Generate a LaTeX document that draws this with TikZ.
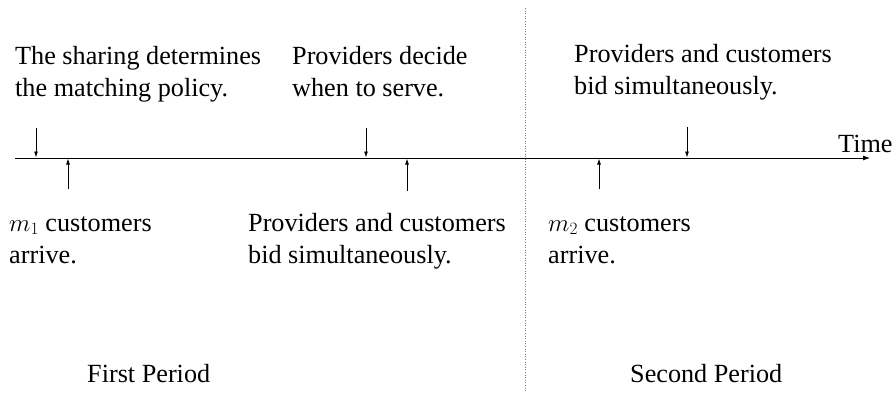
\documentclass[tikz,border=0pt]{standalone}
\usepackage{fontspec}
\setmainfont{Liberation Serif}
\usetikzlibrary{arrows.meta}
\begin{document}
\begin{tikzpicture}[x=1pt,y=-1pt,
  lbl/.style={font={\fontsize{26.2}{32}\selectfont}, inner sep=0pt, anchor=base west, align=left},
  tick/.style={line width=0.8pt, -{Latex[length=6pt,width=4pt]}},
  axis/.style={line width=0.9pt, -{Latex[length=7pt,width=5pt]}}]
\useasboundingbox (0,0) rectangle (893,392);
% timeline
\coordinate (t0) at (15,158);
\coordinate (t1) at (870,158);
\draw[axis] (t0) -- (t1);
\node[lbl] (time) at (838,152) {Time};
% period separator
\coordinate (s0) at (525,8);
\coordinate (s1) at (525,392);
\draw[dotted, line width=0.6pt, gray] (s0) -- (s1);
% top labels (anchor = baseline of last line)
\node[lbl] (a) at (15,96) {The sharing determines\\the matching policy.};
\node[lbl] (b) at (292,96) {Providers decide\\when to serve.};
\node[lbl] (c) at (574,94) {Providers and customers\\bid simultaneously.};
% bottom labels
\node[lbl] (d) at (9,263) {$m_1$ customers\\arrive.};
\node[lbl] (e) at (248,263) {Providers and customers\\bid simultaneously.};
\node[lbl] (f) at (548,263) {$m_2$ customers\\arrive.};
\node[lbl] (p1) at (87,382) {First Period};
\node[lbl] (p2) at (630,382) {Second Period};
% down arrows
\coordinate (d1a) at (36,128); \coordinate (d1b) at (36,157.5);
\coordinate (d2a) at (366,128); \coordinate (d2b) at (366,157.5);
\coordinate (d3a) at (687,127); \coordinate (d3b) at (687,157.5);
\draw[tick] (d1a) -- (d1b);
\draw[tick] (d2a) -- (d2b);
\draw[tick] (d3a) -- (d3b);
% up arrows
\coordinate (u1a) at (68,189); \coordinate (u1b) at (68,158.5);
\coordinate (u2a) at (407,191); \coordinate (u2b) at (407,158.5);
\coordinate (u3a) at (599,189); \coordinate (u3b) at (599,158.5);
\draw[tick] (u1a) -- (u1b);
\draw[tick] (u2a) -- (u2b);
\draw[tick] (u3a) -- (u3b);
\end{tikzpicture}
\end{document}
